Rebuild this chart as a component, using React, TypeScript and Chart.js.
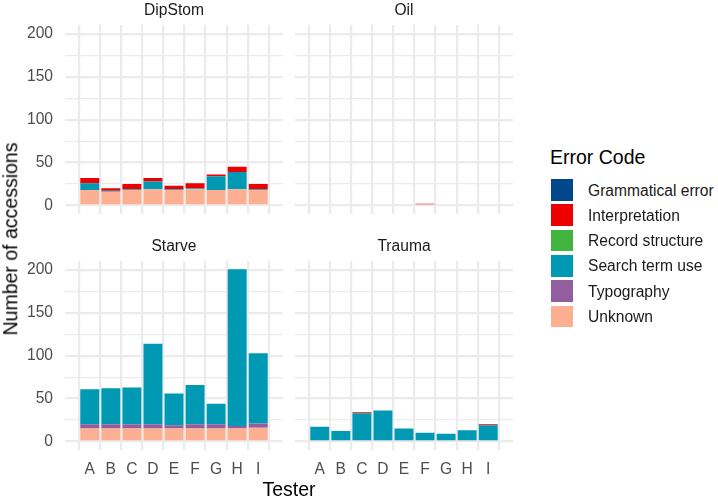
import React, { useEffect, useRef } from 'react';
import { Chart, registerables } from 'chart.js';

Chart.register(...registerables);

// ---------- Data ----------
const testers = ['A', 'B', 'C', 'D', 'E', 'F', 'G', 'H', 'I'];
const errorCodes = ['Grammatical error', 'Interpretation', 'Record structure', 'Search term use', 'Typography', 'Unknown'];
const codeColors = ['#00468B', '#ED0000', '#42B540', '#0099B4', '#925E9F', '#FDAF91'];
const yTickValues = [0, 25, 50, 75, 100, 125, 150, 175, 200];
const yLabelStep = 50;

// DipStom
const dipStomGrammatical = [0, 0, 0, 0, 0, 0, 0, 0, 0];
const dipStomInterpretation = [6, 3, 6, 4, 4, 6, 2, 6, 6];
const dipStomRecord = [0, 0, 0, 0, 0, 0, 0, 0, 0];
const dipStomSearch = [8, 1, 1, 9, 1, 1, 16, 20, 1];
const dipStomTypography = [0, 0, 0, 0, 0, 0, 0, 0, 0];
const dipStomUnknown = [18, 16, 18, 19, 18, 19, 18, 19, 18];

// Oil
const oilGrammatical = [0, 0, 0, 0, 0, 0, 0, 0, 0];
const oilInterpretation = [0, 0, 0, 0, 0, 2, 0, 0, 0];
const oilRecord = [0, 0, 0, 0, 0, 0, 0, 0, 0];
const oilSearch = [0, 0, 0, 0, 0, 0, 0, 0, 0];
const oilTypography = [0, 0, 0, 0, 0, 0, 0, 0, 0];
const oilUnknown = [0, 0, 0, 0, 0, 0, 0, 0, 0];

// Starve
const starveGrammatical = [0, 0, 0, 0, 0, 0, 0, 0, 0];
const starveInterpretation = [0, 0, 0, 0, 0, 0, 0, 0, 0];
const starveRecord = [0, 0, 0, 0, 0, 0, 0, 0, 0];
const starveSearch = [41, 42, 43, 94, 37, 46, 24, 183, 82];
const starveTypography = [5, 5, 5, 5, 4, 5, 5, 3, 5];
const starveUnknown = [15, 15, 15, 15, 15, 15, 15, 15, 16];

// Trauma
const traumaGrammatical = [0, 0, 0, 0, 0, 0, 0, 0, 0];
const traumaInterpretation = [0, 0, 1, 0, 0, 0, 0, 0, 1];
const traumaRecord = [0, 0, 0, 0, 0, 0, 0, 0, 0];
const traumaSearch = [17, 12, 33, 36, 15, 10, 9, 13, 19];
const traumaTypography = [0, 0, 0, 0, 0, 0, 0, 0, 0];
const traumaUnknown = [0, 0, 0, 0, 0, 0, 0, 0, 0];

const facetSeries: Record<string, number[][]> = {
  DipStom: [dipStomGrammatical, dipStomInterpretation, dipStomRecord, dipStomSearch, dipStomTypography, dipStomUnknown],
  Oil: [oilGrammatical, oilInterpretation, oilRecord, oilSearch, oilTypography, oilUnknown],
  Starve: [starveGrammatical, starveInterpretation, starveRecord, starveSearch, starveTypography, starveUnknown],
  Trauma: [traumaGrammatical, traumaInterpretation, traumaRecord, traumaSearch, traumaTypography, traumaUnknown],
};

const yMin = -10.05;
const yMax = 211.05;

// ---------- Styling ----------
const FONT = '"Liberation Sans", Arial, Helvetica, sans-serif';
const GRID = '#EBEBEB';
const SMALL = 15.6;
const TITLE = 19.5;
const STRIP = 24.72;

type PanelProps = {
  facet: string;
  left: number;
  top: number;
  width: number;
  height: number;
  showY: boolean;
  showX: boolean;
};

function Panel({ facet, left, top, width, height, showY, showX }: PanelProps) {
  const ref = useRef<HTMLCanvasElement>(null);

  useEffect(() => {
    const canvas = ref.current;
    if (!canvas) return;
    const series = facetSeries[facet];
    // ggplot stacks the first level on top, so draw in reverse order (bottom first)
    const order = errorCodes.map((_, i) => i).reverse();
    const chart = new Chart(canvas, {
      type: 'bar',
      data: {
        datasets: order.map((ci) => ({
          label: errorCodes[ci],
          data: testers.map((_, i) => ({ x: i, y: series[ci][i] })),
          backgroundColor: codeColors[ci],
          borderWidth: 0,
          barPercentage: 0.9,
          categoryPercentage: 1,
        })),
      },
      options: {
        responsive: false,
        animation: false,
        layout: { padding: { top: STRIP, left: 0, right: 0, bottom: 0 } },
        plugins: {
          legend: { display: false },
          tooltip: { enabled: false },
          title: { display: false },
        },
        scales: {
          x: {
            type: 'linear',
            stacked: true,
            min: -0.6,
            max: testers.length - 1 + 0.6,
            afterBuildTicks: (scale: any) => {
              scale.ticks = testers.map((_, i) => ({ value: i }));
            },
            afterFit: (scale: any) => {
              scale.height = showX ? 30 : 0;
              scale.paddingLeft = 0;
              scale.paddingRight = 0;
              scale.paddingTop = 0;
              scale.paddingBottom = 0;
            },
            grid: { color: GRID, lineWidth: 2.2, drawTicks: false },
            border: { display: false },
            ticks: {
              display: showX,
              autoSkip: false,
              maxRotation: 0,
              color: '#4D4D4D',
              padding: 10,
              font: { family: FONT, size: SMALL },
              callback: (v: any) => testers[Number(v)] ?? '',
            },
          },
          y: {
            type: 'linear',
            stacked: true,
            min: yMin,
            max: yMax,
            afterBuildTicks: (scale: any) => {
              scale.ticks = yTickValues.map((v) => ({ value: v }));
            },
            afterFit: (scale: any) => {
              scale.width = showY ? 65 : 0;
              scale.paddingLeft = 0;
              scale.paddingRight = 0;
              scale.paddingTop = 0;
              scale.paddingBottom = 0;
            },
            grid: {
              color: GRID,
              drawTicks: false,
              lineWidth: (ctx: any) => (ctx.tick && ctx.tick.value % yLabelStep === 0 ? 2.2 : 1.2),
            },
            border: { display: false },
            ticks: {
              display: showY,
              autoSkip: false,
              color: '#4D4D4D',
              padding: 12,
              font: { family: FONT, size: SMALL },
              callback: (v: any) => (Number(v) % yLabelStep === 0 ? String(v) : ''),
            },
          },
        },
      } as any,
    });
    return () => chart.destroy();
  }, [facet, showX, showY]);

  const plotLeft = left + (showY ? 65 : 0);
  const centerX = (plotLeft + left + width) / 2;

  return (
    <>
      <canvas
        ref={ref}
        width={width}
        height={height}
        style={{ position: 'absolute', left, top, width, height }}
      />
      <div
        style={{
          position: 'absolute',
          left: centerX,
          top: top + 9.5,
          transform: 'translate(-50%, -50%)',
          whiteSpace: 'nowrap',
          fontSize: SMALL,
          lineHeight: 1,
          color: '#1A1A1A',
        }}
      >
        {facet}
      </div>
    </>
  );
}

export default function App() {
  const panels: PanelProps[] = [
    { facet: 'DipStom', left: 0, top: 0, width: 283, height: 214, showY: true, showX: false },
    { facet: 'Oil', left: 295, top: 0, width: 218, height: 214, showY: false, showX: false },
    { facet: 'Starve', left: 0, top: 236, width: 283, height: 244, showY: true, showX: true },
    { facet: 'Trauma', left: 295, top: 236, width: 218, height: 244, showY: false, showX: true },
  ];

  return (
    <div
      style={{
        position: 'absolute',
        left: 0,
        top: 0,
        width: 718,
        height: 500,
        background: '#FFFFFF',
        fontFamily: FONT,
        overflow: 'hidden',
      }}
    >
      {panels.map((p) => (
        <Panel key={p.facet} {...p} />
      ))}

      {/* y axis title */}
      <div
        style={{
          position: 'absolute',
          left: 11,
          top: 239,
          transform: 'translate(-50%, -50%) rotate(-90deg)',
          whiteSpace: 'nowrap',
          fontSize: TITLE,
          lineHeight: 1,
          color: '#000000',
        }}
      >
        Number of accessions
      </div>

      {/* x axis title */}
      <div
        style={{
          position: 'absolute',
          left: 289,
          top: 480,
          transform: 'translateX(-50%)',
          whiteSpace: 'nowrap',
          fontSize: TITLE,
          lineHeight: 1,
          color: '#000000',
        }}
      >
        Tester
      </div>

      {/* legend */}
      <div
        style={{
          position: 'absolute',
          left: 550,
          top: 147.5,
          fontSize: TITLE,
          lineHeight: 1,
          color: '#000000',
          whiteSpace: 'nowrap',
        }}
      >
        Error Code
      </div>
      {errorCodes.map((code, i) => (
        <div key={code}>
          <div
            style={{
              position: 'absolute',
              left: 551,
              top: 179 + i * 25.3,
              width: 21.7,
              height: 21.7,
              background: codeColors[i],
            }}
          />
          <div
            style={{
              position: 'absolute',
              left: 588,
              top: 179 + i * 25.3 + 11.5,
              transform: 'translateY(-50%)',
              fontSize: SMALL,
              lineHeight: 1,
              color: '#1A1A1A',
              whiteSpace: 'nowrap',
            }}
          >
            {code}
          </div>
        </div>
      ))}
    </div>
  );
}
